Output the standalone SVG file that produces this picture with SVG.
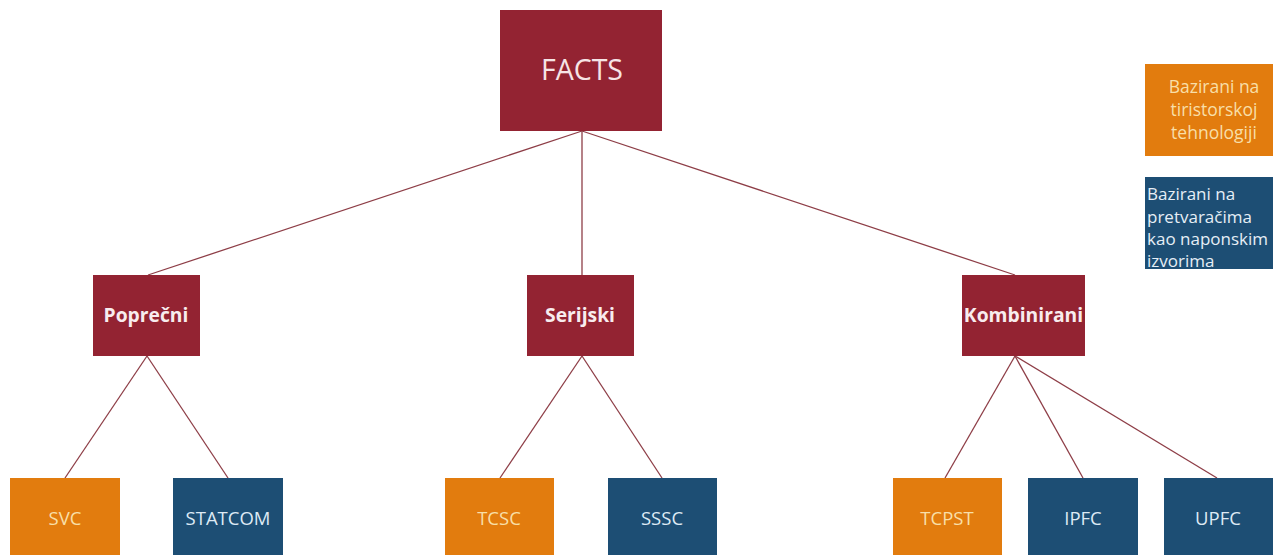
<svg xmlns="http://www.w3.org/2000/svg" width="1281" height="555" viewBox="0 0 1281 555">
<style>
.red{fill:#932332}
.org{fill:#E27C0E}
.blu{fill:#1D4E74}
text{font-family:"Open Sans","Noto Sans","Liberation Sans",sans-serif}
.t1{font-size:28.5px;fill:#F6E4E6;text-anchor:middle}
.t2{font-size:19.3px;font-weight:bold;fill:#F8ECEE;text-anchor:middle}
.to{font-size:18.5px;fill:#F8DFA8;text-anchor:middle}
.tb{font-size:18.5px;fill:#DDEAF4;text-anchor:middle}
.lo{font-size:17.5px;fill:#F8DFA8;text-anchor:middle}
.lb{font-size:17px;fill:#E6EEF6}
.c{stroke:#8E3E47;stroke-width:1.3;fill:none}
</style>
<rect width="1281" height="555" fill="#ffffff"/>
<g id="connectors">
<line class="c" x1="582" y1="131" x2="148" y2="275"/>
<line class="c" x1="582" y1="131" x2="582" y2="275"/>
<line class="c" x1="582" y1="131" x2="1015" y2="275"/>
<line class="c" x1="147" y1="356" x2="65" y2="478"/>
<line class="c" x1="147" y1="356" x2="228" y2="478"/>
<line class="c" x1="582" y1="356" x2="500" y2="478"/>
<line class="c" x1="582" y1="356" x2="662" y2="478"/>
<line class="c" x1="1015" y1="356" x2="945" y2="478"/>
<line class="c" x1="1015" y1="356" x2="1083" y2="478"/>
<line class="c" x1="1015" y1="356" x2="1217" y2="478"/>
</g>
<g id="facts"><rect class="red" x="500" y="10" width="162" height="121"/><text class="t1" x="582" y="80">FACTS</text></g>
<g id="poprecni"><rect class="red" x="93" y="275" width="107" height="81"/><text class="t2" x="146" y="322">Poprečni</text></g>
<g id="serijski"><rect class="red" x="527" y="275" width="107" height="81"/><text class="t2" x="580" y="322">Serijski</text></g>
<g id="kombinirani"><rect class="red" x="962" y="275" width="123" height="81"/><text class="t2" x="1023.5" y="322">Kombinirani</text></g>
<g id="svc"><rect class="org" x="10" y="478" width="110" height="77"/><text class="to" x="65" y="525">SVC</text></g>
<g id="statcom"><rect class="blu" x="173" y="478" width="110" height="77"/><text class="tb" x="228" y="525">STATCOM</text></g>
<g id="tcsc"><rect class="org" x="445" y="478" width="109" height="77"/><text class="to" x="499" y="525">TCSC</text></g>
<g id="sssc"><rect class="blu" x="608" y="478" width="109" height="77"/><text class="tb" x="662" y="525">SSSC</text></g>
<g id="tcpst"><rect class="org" x="893" y="478" width="109" height="77"/><text class="to" x="947" y="525">TCPST</text></g>
<g id="ipfc"><rect class="blu" x="1028" y="478" width="110" height="77"/><text class="tb" x="1083" y="525">IPFC</text></g>
<g id="upfc"><rect class="blu" x="1164" y="478" width="109" height="77"/><text class="tb" x="1218" y="525">UPFC</text></g>
<g id="legend-thyristor"><rect class="org" x="1145" y="64" width="128" height="92"/>
<text class="lo"><tspan x="1214" y="93">Bazirani na</tspan><tspan x="1214" y="116">tiristorskoj</tspan><tspan x="1214" y="139">tehnologiji</tspan></text></g>
<g id="legend-converter"><rect class="blu" x="1145" y="177" width="128" height="92"/>
<text class="lb"><tspan x="1147" y="200">Bazirani na</tspan><tspan x="1147" y="222.5">pretvaračima</tspan><tspan x="1147" y="245">kao naponskim</tspan><tspan x="1147" y="267">izvorima</tspan></text></g>
</svg>
